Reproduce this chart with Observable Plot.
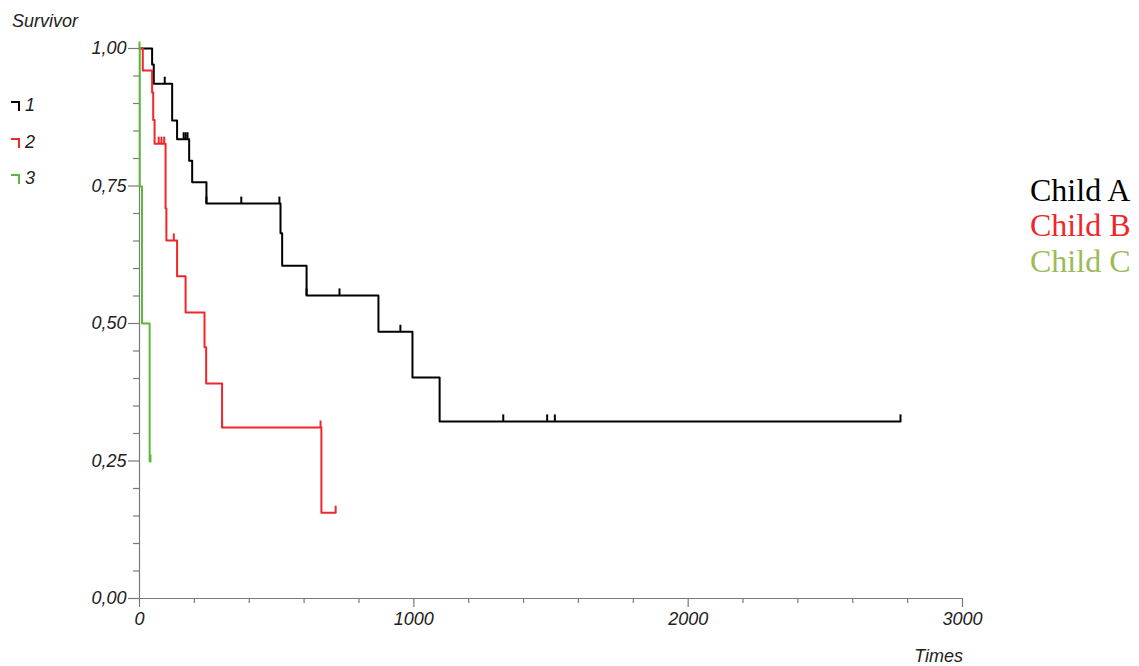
<!DOCTYPE html>
<html>
<head>
<meta charset="utf-8">
<script src="https://cdn.jsdelivr.net/npm/d3@7"></script>
<script src="https://cdn.jsdelivr.net/npm/@observablehq/plot@0.6"></script>
<style>
  html, body { margin: 0; padding: 0; background: #fff; }
  #wrap { position: relative; width: 1139px; height: 666px; overflow: hidden; }
  .it { position: absolute; font-family: "Liberation Sans", Arial, sans-serif; font-style: italic; font-size: 18px; color: #222; line-height: 18px; white-space: nowrap; }
  .sym { position: absolute; width: 9px; height: 10px; border-top: 2px solid; border-right: 2px solid; box-sizing: border-box; }
  .ser { position: absolute; left: 1030px; font-family: "Liberation Serif", "Times New Roman", serif; font-size: 32px; line-height: 32px; white-space: nowrap; }
  svg text { font-style: italic; }
</style>
</head>
<body>
<div id="wrap"></div>
<script>
// ---- data ----
const seriesNames = ["Child A", "Child B", "Child C"];
const legendCodes = ["1", "2", "3"];
const lineColors = ["#000000", "#f0262a", "#5cb83c"];
const textColors = ["#000000", "#f0262a", "#9bbb59"];

// Child A (group 1): step times and survival
const timesA = [0, 46, 52, 119, 137, 181, 192, 244, 514, 520, 609, 871, 995, 1094, 2774];
const survA  = [1, 0.971, 0.936, 0.869, 0.835, 0.796, 0.757, 0.718, 0.664, 0.605, 0.551, 0.485, 0.402, 0.322, 0.322];
const censorA = [92, 161, 168, 175, 244, 371, 510, 609, 729, 951, 1326, 1486, 1514, 2774];

// Child B (group 2)
const timesB = [0, 12, 46, 50, 55, 95, 98, 137, 168, 237, 243, 301, 663, 715];
const survB  = [1, 0.96, 0.92, 0.87, 0.827, 0.709, 0.651, 0.586, 0.52, 0.457, 0.391, 0.311, 0.156, 0.156];
const censorB = [70, 80, 90, 125, 301, 660, 715];

// Child C (group 3)
const timesC = [0, 1, 9, 37, 40];
const survC  = [1, 0.749, 0.5, 0.249, 0.249];
const censorC = [0, 40];

const xMajor = [0, 1000, 2000, 3000];
const xMinor = [200, 400, 600, 800, 1200, 1400, 1600, 1800, 2200, 2400, 2600, 2800];
const yMajor = [0, 0.25, 0.5, 0.75, 1];
const yMinor = [0.05, 0.1, 0.15, 0.2, 0.3, 0.35, 0.4, 0.45, 0.55, 0.6, 0.65, 0.7, 0.8, 0.85, 0.9, 0.95];

// ---- build tables ----
function steps(times, surv, g) { return times.map((t, i) => ({t, s: surv[i], g})); }
function censors(cens, times, surv, g) {
  return cens.map(c => {
    let s = surv[0];
    for (let i = 0; i < times.length; i++) if (times[i] <= c) s = surv[i];
    return {t: c, s, g};
  });
}
const groups = [
  {st: steps(timesA, survA, 0), ce: censors(censorA, timesA, survA, 0)},
  {st: steps(timesB, survB, 1), ce: censors(censorB, timesB, survB, 1)},
  {st: steps(timesC, survC, 2), ce: censors(censorC, timesC, survC, 2)}
];

const tickSymbol = { draw(ctx) { ctx.moveTo(0, 0); ctx.lineTo(0, -7); } };
const axisGray = "#7a7a7a";
const fmtY = d => d.toFixed(2).replace(".", ",");
const fmtX = d => String(d);

const marks = [
  Plot.axisY(yMinor, {tickSize: 6, tickFormat: () => "", stroke: axisGray, strokeWidth: 1.2, label: null}),
  Plot.axisY(yMajor, {tickSize: 11, tickPadding: 2, tickFormat: fmtY, stroke: axisGray, strokeWidth: 1.2, fill: "#222", fontSize: 18, fontStyle: "italic", label: null}),
  Plot.axisX(xMinor, {tickSize: 5, tickFormat: () => "", stroke: axisGray, strokeWidth: 1.2, label: null}),
  Plot.axisX(xMajor, {tickSize: 9, tickPadding: 5, tickFormat: fmtX, stroke: axisGray, strokeWidth: 1.2, fill: "#222", fontSize: 18, fontStyle: "italic", label: null}),
  Plot.ruleY([0], {stroke: axisGray, strokeWidth: 1.2}),
  Plot.ruleX([0], {stroke: axisGray, strokeWidth: 1.2})
];
groups.forEach((gr, i) => {
  marks.push(Plot.line(gr.st, {x: "t", y: "s", curve: "step-after", stroke: lineColors[i], strokeWidth: 2}));
  marks.push(Plot.dot(gr.ce, {x: "t", y: "s", symbol: tickSymbol, stroke: lineColors[i], strokeWidth: 2, fill: "none"}));
});

const chart = Plot.plot({
  width: 1139,
  height: 666,
  marginLeft: 139,
  marginRight: 177,
  marginTop: 48,
  marginBottom: 68,
  x: {domain: [0, 3000]},
  y: {domain: [0, 1]},
  style: {fontFamily: "'Liberation Sans', Arial, sans-serif", fontSize: "18px", fontStyle: "italic", background: "#fff", overflow: "visible"},
  marks
});

const wrap = document.getElementById("wrap");
wrap.appendChild(chart);
chart.style.position = "absolute";
chart.style.left = "0px";
chart.style.top = "0px";

function addEl(cls, text, css) {
  const el = document.createElement("div");
  el.className = cls;
  if (text != null) el.textContent = text;
  Object.assign(el.style, css);
  wrap.appendChild(el);
  return el;
}
// axis titles
addEl("it", "Survivor", {left: "12px", top: "12px"});
addEl("it", "Times", {right: "176px", top: "647px"});
// left legend
const symTops = [101, 138, 174];
legendCodes.forEach((c, i) => {
  addEl("sym", null, {left: "11px", top: symTops[i] + "px", borderColor: lineColors[i]});
  addEl("it", c, {left: "25px", top: (symTops[i] - 5) + "px"});
});
// right legend
const serTops = [174, 209, 245];
seriesNames.forEach((n, i) => {
  addEl("ser", n, {top: serTops[i] + "px", color: textColors[i]});
});
</script>
</body>
</html>
